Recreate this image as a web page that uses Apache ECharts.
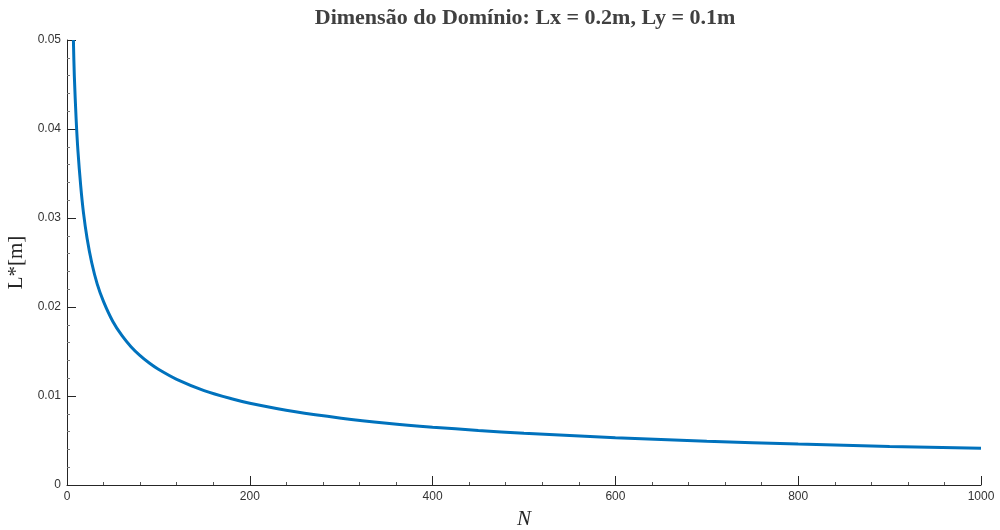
<!DOCTYPE html>
<html>
<head>
<meta charset="utf-8">
<script src="https://cdn.jsdelivr.net/npm/echarts@6/dist/echarts.min.js"></script>
<style>html,body{margin:0;padding:0;background:#fff}#c{width:1000px;height:530px}</style>
</head>
<body>
<div id="c"></div>
<script>
const titleText = "Dimensão do Domínio: Lx = 0.2m, Ly = 0.1m";
const xName = "N";
const yName = "L*[m]";
const nValues = [7, 8, 10, 12, 15, 18, 22, 27, 33, 40, 50, 60, 70, 80, 90, 100, 120, 150, 180, 200, 250, 300, 350, 400, 450, 500, 600, 700, 800, 900, 1000];
const lValues = [0.0500, 0.0460, 0.0411, 0.0375, 0.0336, 0.0306, 0.0277, 0.0250, 0.0226, 0.0206, 0.0184, 0.0168, 0.01554, 0.01453, 0.01370, 0.01300, 0.01187, 0.01061, 0.00969, 0.00919, 0.00822, 0.00751, 0.00695, 0.00650, 0.00613, 0.00581, 0.00531, 0.00491, 0.00460, 0.00433, 0.00413];

const seriesData = nValues.map((n, i) => [n, lValues[i]]);
const axisColor = '#262626';
const chart = echarts.init(document.getElementById('c'), null, {renderer: 'canvas'});
chart.setOption({
  animation: false,
  backgroundColor: '#fff',
  title: {
    text: titleText,
    left: 520,
    top: 2,
    textAlign: 'center',
    textStyle: {fontFamily: 'Liberation Serif', fontWeight: 'bold', fontSize: 22, color: '#404040'}
  },
  grid: {left: 67, right: 19, top: 40, bottom: 45, containLabel: false, outerBoundsMode: 'none'},
  xAxis: {
    type: 'value', min: 0, max: 1000, interval: 200,
    name: xName, nameLocation: 'middle', nameGap: 24,
    nameTextStyle: {fontFamily: 'Liberation Serif', fontStyle: 'italic', fontSize: 21, color: '#262626'},
    axisLine: {lineStyle: {color: axisColor, width: 1}},
    axisTick: {inside: true, length: 9, lineStyle: {color: axisColor}},
    minorTick: {show: true, splitNumber: 5, length: 3, lineStyle: {color: '#555'}},
    axisLabel: {fontFamily: 'Liberation Sans', fontSize: 12, color: '#333', margin: 6, formatter: v => String(v)},
    splitLine: {show: false}
  },
  yAxis: {
    type: 'value', min: 0, max: 0.05, interval: 0.01,
    name: yName, nameLocation: 'middle', nameGap: 37,
    nameTextStyle: {fontFamily: 'Liberation Serif', fontSize: 21, color: '#262626'},
    axisLine: {show: true, lineStyle: {color: axisColor, width: 1}},
    axisTick: {show: true, inside: true, length: 9, lineStyle: {color: axisColor}},
    minorTick: {show: true, splitNumber: 5, length: 3, lineStyle: {color: '#777'}},
    axisLabel: {fontFamily: 'Liberation Sans', fontSize: 12, color: '#333', margin: 6},
    splitLine: {show: false}
  },
  series: [{
    type: 'line',
    data: seriesData,
    showSymbol: false,
    smooth: 0.3,
    lineStyle: {color: '#0072BD', width: 3},
    itemStyle: {color: '#0072BD'}
  }]
});
</script>
</body>
</html>
